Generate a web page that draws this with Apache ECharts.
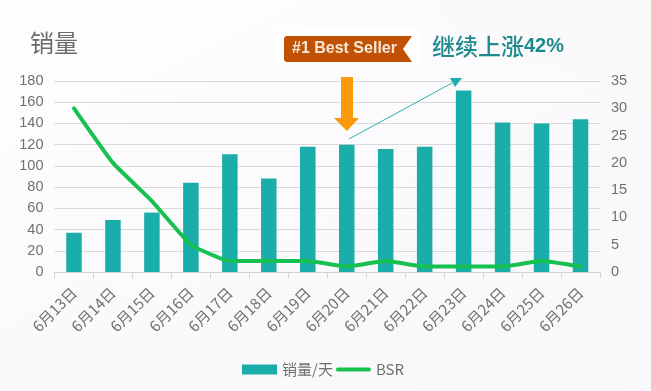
<!DOCTYPE html>
<html><head><meta charset="utf-8">
<style>html,body{margin:0;padding:0;background:#fcfcfd}#c{width:651px;height:391px}</style>
<script src="https://cdn.jsdelivr.net/npm/echarts@6/dist/echarts.min.js"></script>
</head><body><div id="c"></div>
<script>
const categories=['6月13日','6月14日','6月15日','6月16日','6月17日','6月18日','6月19日','6月20日','6月21日','6月22日','6月23日','6月24日','6月25日','6月26日'];
const sales=[37,49,56,84,111,88,118,120,116,118,171,141,140,144];
const bsr=[30,20,13,5,2,2,2,1,2,1,1,1,2,1];
const leftTicks={min:0,max:180,interval:20};
const rightTicks={min:0,max:35,interval:5};
const font='"Noto Sans CJK SC","Noto Sans",sans-serif';
const grey='#707070';
const chart=echarts.init(document.getElementById('c'));
const axisLab={color:grey,fontSize:14.5,fontFamily:'"Liberation Sans",sans-serif'};
chart.setOption({
 animation:false,
 backgroundColor:new echarts.graphic.LinearGradient(0,0,0.3,1,[{offset:0,color:'#fefefe'},{offset:0.6,color:'#fbfbfd'},{offset:1,color:'#f9f9fb'}]),
 title:{text:'销量',left:30,top:31,padding:0,textStyle:{color:'#6b6b6b',fontSize:24,fontWeight:'normal',fontFamily:font}},
 grid:{left:54.5,right:51,top:81,bottom:119,containLabel:false},
 legend:{bottom:14,left:242,padding:0,itemGap:3,itemWidth:35,itemHeight:10,
  textStyle:{color:grey,fontSize:15,fontFamily:font},
  data:[{name:'销量/天',icon:'rect'},{name:'BSR',icon:'path://M2 0H33A2 2 0 0 1 33 4H2A2 2 0 0 1 2 0Z'}]},
 xAxis:{type:'category',data:categories,
  axisLine:{lineStyle:{color:'#d4d4d4'}},axisTick:{show:true,length:6,lineStyle:{color:'#d4d4d4'},alignWithLabel:false},
  axisLabel:{rotate:45,interval:0,color:grey,fontSize:15,fontFamily:font,margin:18}},
 yAxis:[
  {type:'value',...leftTicks,axisLine:{show:false},axisTick:{show:false},axisLabel:{...axisLab,margin:11},splitLine:{lineStyle:{color:'#d9d9d9',width:1}}},
  {type:'value',...rightTicks,axisLine:{show:false},axisTick:{show:false},axisLabel:{...axisLab,margin:11},splitLine:{show:false}}
 ],
 series:[
  {name:'销量/天',type:'bar',data:sales,barWidth:15.5,itemStyle:{color:'#1badaa'}},
  {name:'BSR',type:'line',yAxisIndex:1,data:bsr,symbol:'none',smooth:0.12,lineStyle:{color:'#17c14f',width:4,cap:'round',join:'round'},itemStyle:{color:'#17c14f'}}
 ],
 graphic:[
  {type:'polygon',silent:true,z:-1,shape:{points:[[430,0],[651,0],[651,120],[560,70],[470,60]]},style:{fill:'#fafafb'}},
  {type:'polygon',silent:true,z:-1,shape:{points:[[0,330],[90,270],[300,391],[0,391]]},style:{fill:'#fafafb'}},
  {type:'polygon',silent:true,z:-1,shape:{points:[[400,391],[510,345],[651,391]]},style:{fill:'#f8f8f9'}},
  {type:'rect',silent:true,z:5,shape:{x:277,y:30,width:143,height:35},style:{fill:'#ffffff'}},
  {type:'polygon',silent:true,z:6,shape:{points:[[286,36],[412,36],[403,49],[412,62],[286,62],[284,60],[284,38]]},style:{fill:'#c25203'}},
  {type:'text',silent:true,z:7,x:292,y:41,style:{text:'#1 Best Seller',fill:'#f6e6d8',font:'bold 16px "Liberation Sans",sans-serif'}},
  {type:'text',silent:true,z:7,x:432,y:35,style:{text:'{a|继续上涨}{b|42%}',rich:{a:{fill:'#1f8a8e',font:'500 23px "Noto Sans CJK SC",sans-serif'},b:{fill:'#1f8a8e',font:'bold 20px "Liberation Sans",sans-serif'}}}},
  {type:'polygon',silent:true,z:7,shape:{points:[[341,77],[353,77],[353,118],[359,118],[347,131],[334,118],[341,118]]},style:{fill:'#f99b0c'}},
  {type:'line',silent:true,z:7,shape:{x1:349,y1:139,x2:452,y2:83},style:{stroke:'#2cb1ae',lineWidth:1}},
  {type:'polygon',silent:true,z:7,shape:{points:[[450,78],[462,78],[455,87]]},style:{fill:'#1badaa'}}
 ]
});
</script></body></html>
